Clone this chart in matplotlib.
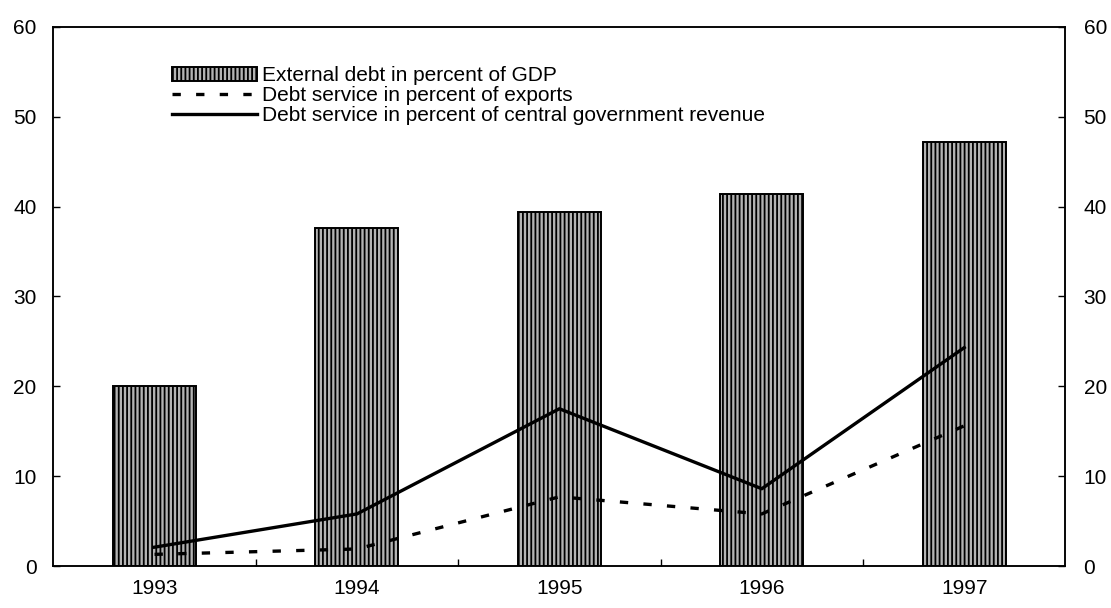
import matplotlib.pyplot as plt
import numpy as np

years = ["1993", "1994", "1995", "1996", "1997"]
ext_debt_gdp = [20.0, 37.6, 39.4, 41.4, 47.2]
debt_service_exports = [1.3, 1.9, 7.7, 5.8, 15.6]
debt_service_revenue = [2.1, 5.8, 17.5, 8.6, 24.3]

plt.rcParams["font.family"] = ["Liberation Sans", "DejaVu Sans"]
plt.rcParams["hatch.linewidth"] = 1.3
plt.rcParams["lines.scale_dashes"] = False

x = np.arange(len(years))

fig = plt.figure(figsize=(11.11, 6.08), dpi=100)
ax = fig.add_axes([0.048, 0.069, 0.911, 0.887])

bars = ax.bar(x, ext_debt_gdp, width=0.41, facecolor="#b4b4b4", edgecolor="black",
              linewidth=1.4, hatch="||||", label="External debt in percent of GDP", zorder=2)

ax2 = ax.twinx()
l1, = ax2.plot(x, debt_service_exports, color="black", lw=2.4, linestyle=(0, (6, 11)),
               label="Debt service in percent of exports")
l2, = ax2.plot(x, debt_service_revenue, color="black", lw=2.4,
               label="Debt service in percent of central government revenue")

for a in (ax, ax2):
    a.set_ylim(0, 60)
    a.set_yticks(range(0, 61, 10))
    a.set_xlim(-0.5, 4.5)
    for s in a.spines.values():
        s.set_linewidth(1.1)

ax.set_xticks(x)
ax.set_xticklabels(years)
ax.set_xticks(x[:-1] + 0.5, minor=True)
ax.tick_params(axis="x", which="major", length=0, pad=9, labelsize=15)
ax.tick_params(axis="x", which="minor", direction="in", length=5, width=1)
ax.tick_params(axis="y", direction="in", length=5, width=1, pad=12, labelsize=15)
ax2.tick_params(axis="y", direction="in", length=5, width=1, pad=13, labelsize=15)

ax2.legend(handles=[bars, l1, l2], loc="upper left", bbox_to_anchor=(0.117, 0.927),
           frameon=False, fontsize=15, handlelength=4.1, handleheight=0.7,
           handletextpad=0.22, labelspacing=0.05, borderaxespad=0, borderpad=0)

fig.savefig("out.png", dpi=100)
